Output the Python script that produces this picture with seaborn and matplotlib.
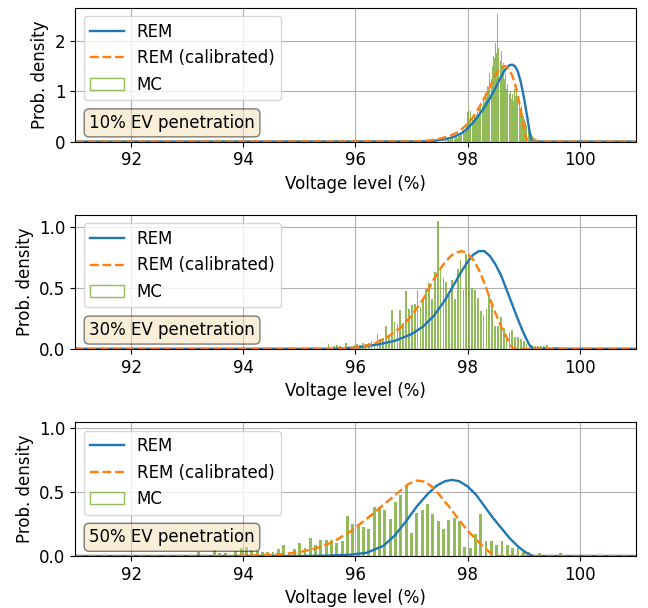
import numpy as np
import pandas as pd
import matplotlib
matplotlib.use('Agg')
import matplotlib.pyplot as plt
from matplotlib.patches import Patch
from matplotlib.lines import Line2D
import seaborn as sns

# ---- Monte Carlo histograms (bar heights) ----
# each: first bar centre, bar spacing, heights
mc10_start, mc10_step = 97.60, 0.02
mc10 = [0.02, 0.0, 0.03, 0.05, 0.03, 0.06, 0.04, 0.08, 0.05, 0.10,
        0.12, 0.08, 0.15, 0.12, 0.18, 0.14, 0.22, 0.18, 0.25, 0.30,
        0.58, 0.62, 0.45, 0.60, 0.50, 0.42, 0.55, 0.48, 0.52, 0.58,
        0.50, 0.68, 0.75, 0.70, 0.85, 0.78, 0.95, 0.88, 1.10, 1.05,
        1.35, 1.25, 1.50, 1.70, 1.65, 1.95, 1.75, 2.52, 1.85, 1.60,
        1.80, 1.45, 1.55, 1.25, 1.35, 1.05, 1.15, 0.95, 1.00, 0.85,
        0.95, 0.80, 1.05, 0.90, 1.10, 0.85, 0.75, 0.65, 0.70, 0.55,
        0.50, 0.45, 0.38, 0.32, 0.28, 0.22, 0.18, 0.15, 0.12, 0.10,
        0.08, 0.06, 0.05, 0.04, 0.03, 0.02, 0.02, 0.01, 0.02, 0.0,
        0.01, 0.0, 0.0, 0.01, 0.0, 0.0, 0.0, 0.0, 0.0, 0.0,
        0.0, 0.0, 0.0, 0.02]

mc30_start, mc30_step = 95.47, 0.0512
mc30 = [0.0, 0.04, 0.0, 0.02, 0.03, 0.02, 0.0, 0.05, 0.0, 0.0,
        0.035, 0.04, 0.035, 0.05, 0.04, 0.045, 0.065, 0.05, 0.12, 0.08,
        0.09, 0.19, 0.11, 0.32, 0.22, 0.20, 0.32, 0.21, 0.47, 0.33,
        0.36, 0.37, 0.48, 0.34, 0.40, 0.49, 0.54, 0.41, 0.63, 1.05,
        0.65, 0.58, 0.55, 0.44, 0.56, 0.41, 0.65, 0.73, 0.48, 0.78,
        0.71, 0.50, 0.48, 0.42, 0.31, 0.28, 0.33, 0.45, 0.38, 0.19,
        0.19, 0.26, 0.17, 0.12, 0.14, 0.15, 0.10, 0.10, 0.08, 0.06,
        0.04, 0.035, 0.035, 0.02, 0.02, 0.02, 0.02, 0.035, 0.015, 0.015,
        0.015, 0.015]

mc50_start, mc50_step = 93.20, 0.095
mc50 = [0.035, 0.0, 0.0, 0.045, 0.025, 0.025, 0.0, 0.04, 0.06, 0.07,
        0.05, 0.04, 0.035, 0.035, 0.035, 0.057, 0.088, 0.022, 0.057, 0.10,
        0.062, 0.14, 0.088, 0.128, 0.122, 0.128, 0.10, 0.115, 0.31, 0.25,
        0.25, 0.23, 0.21, 0.38, 0.38, 0.36, 0.29, 0.42, 0.48, 0.55,
        0.18, 0.34, 0.36, 0.41, 0.33, 0.27, 0.21, 0.28, 0.30, 0.27,
        0.07, 0.06, 0.17, 0.33, 0.12, 0.12, 0.09, 0.12, 0.09, 0.06,
        0.06, 0.035, 0.03, 0.01, 0.02, 0.0, 0.0, 0.0, 0.02, 0.0,
        0.0, 0.0, 0.01]

# ---- REM density curves ----
rem10_x = [91.0, 97.2, 97.4, 97.6, 97.75, 97.9, 98.0, 98.1, 98.2, 98.3, 98.4, 98.5, 98.6,
           98.65, 98.7, 98.75, 98.8, 98.85, 98.9, 98.95, 99.0, 99.05, 99.1, 99.13, 99.15, 101.0]
rem10_y = [0, 0.003, 0.015, 0.045, 0.09, 0.17, 0.26, 0.38, 0.52, 0.68, 0.86, 1.07, 1.29,
           1.39, 1.47, 1.515, 1.525, 1.49, 1.38, 1.18, 0.91, 0.59, 0.25, 0.06, 0.0, 0]
cal10_x = [91.0, 97.1, 97.3, 97.5, 97.7, 97.85, 98.0, 98.1, 98.2, 98.3, 98.4, 98.5,
           98.55, 98.6, 98.65, 98.7, 98.75, 98.8, 98.85, 98.9, 98.95, 99.0, 99.04, 99.07, 101.0]
cal10_y = [0, 0.003, 0.02, 0.055, 0.12, 0.2, 0.35, 0.49, 0.66, 0.87, 1.09, 1.32,
           1.41, 1.47, 1.50, 1.48, 1.42, 1.30, 1.13, 0.90, 0.62, 0.32, 0.10, 0.0, 0]

rem30_x = [91.0, 95.6, 96.0, 96.4, 96.7, 97.0, 97.2, 97.4, 97.6, 97.75, 97.9, 98.0, 98.1,
           98.2, 98.3, 98.4, 98.5, 98.6, 98.7, 98.8, 98.9, 98.98, 99.05, 99.1, 99.16, 101.0]
rem30_y = [0, 0.0, 0.01, 0.035, 0.065, 0.12, 0.18, 0.27, 0.40, 0.52, 0.64, 0.71, 0.77,
           0.80, 0.80, 0.76, 0.69, 0.60, 0.48, 0.36, 0.24, 0.15, 0.08, 0.035, 0.0, 0]
cal30_x = [91.0, 95.6, 96.0, 96.3, 96.55, 96.8, 97.0, 97.2, 97.4, 97.55, 97.7, 97.8,
           97.9, 98.0, 98.1, 98.2, 98.3, 98.4, 98.5, 98.6, 98.7, 98.77, 98.82, 101.0]
cal30_y = [0, 0, 0.01, 0.035, 0.09, 0.17, 0.27, 0.40, 0.57, 0.68, 0.76, 0.79,
           0.80, 0.78, 0.73, 0.65, 0.54, 0.41, 0.29, 0.18, 0.09, 0.03, 0.0, 0]

rem50_x = [91.0, 95.0, 95.5, 95.9, 96.2, 96.5, 96.7, 96.9, 97.1, 97.3, 97.45, 97.6,
           97.72, 97.85, 98.0, 98.15, 98.3, 98.45, 98.6, 98.75, 98.9, 99.0, 99.1, 99.18, 101.0]
rem50_y = [0, 0, 0.003, 0.01, 0.025, 0.08, 0.16, 0.27, 0.39, 0.49, 0.55, 0.585,
           0.595, 0.585, 0.545, 0.48, 0.39, 0.30, 0.22, 0.14, 0.075, 0.04, 0.012, 0, 0]
cal50_x = [91.0, 93.8, 94.4, 94.7, 95.0, 95.3, 95.6, 95.9, 96.2, 96.5, 96.8, 96.95,
           97.1, 97.25, 97.4, 97.55, 97.7, 97.85, 98.0, 98.15, 98.3, 98.42, 98.5, 101.0]
cal50_y = [0, 0, 0.008, 0.015, 0.03, 0.06, 0.11, 0.19, 0.29, 0.40, 0.51, 0.565,
           0.59, 0.58, 0.53, 0.45, 0.37, 0.28, 0.20, 0.13, 0.065, 0.02, 0.0, 0]

labels = ['10% EV penetration', '30% EV penetration', '50% EV penetration']
ylims = [2.65, 1.095, 1.045]
yticks = [[0, 1, 2], [0.0, 0.5, 1.0], [0.0, 0.5, 1.0]]
shrinks = [0.9, 0.6, 0.55]

panels = [
    (mc10_start, mc10_step, mc10, rem10_x, rem10_y, cal10_x, cal10_y),
    (mc30_start, mc30_step, mc30, rem30_x, rem30_y, cal30_x, cal30_y),
    (mc50_start, mc50_step, mc50, rem50_x, rem50_y, cal50_x, cal50_y),
]

blue = '#1f77b4'
orange = '#ff7f0e'
green = '#77ac30'
fs = 12

fig, axes = plt.subplots(3, 1, figsize=(6.48, 6.08), dpi=100)
fig.subplots_adjust(left=0.116, right=0.981, top=0.987, bottom=0.0855, hspace=0.55)

for i, ax in enumerate(axes):
    start, step, heights, rx, ry, cx, cy = panels[i]
    n = len(heights)
    mc = pd.DataFrame({'v': start + step * np.arange(n), 'w': heights})
    lo = start - step / 2

    sns.histplot(data=mc, x='v', weights='w', binwidth=step,
                 binrange=(lo, lo + step * n), shrink=shrinks[i],
                 color=green, alpha=0.8, linewidth=0, ax=ax)
    sns.lineplot(x=rx, y=ry, color=blue, lw=1.7, ax=ax)
    sns.lineplot(x=cx, y=cy, color=orange, lw=1.7, ls='--', ax=ax)

    ax.set_xlim(91, 101)
    ax.set_ylim(0, ylims[i])
    ax.set_xticks([92, 94, 96, 98, 100])
    ax.set_yticks(yticks[i])
    ax.grid(True, color='#b0b0b0', lw=0.8)
    ax.set_axisbelow(True)
    ax.set_xlabel('Voltage level (%)', fontsize=fs)
    ax.set_ylabel('Prob. density', fontsize=fs)
    ax.tick_params(labelsize=fs)

    handles = [Line2D([0], [0], color=blue, lw=1.7),
               Line2D([0], [0], color=orange, lw=1.7, ls='--'),
               Patch(facecolor='white', edgecolor=green, alpha=0.8)]
    ax.legend(handles, ['REM', 'REM (calibrated)', 'MC'], loc='upper left', fontsize=fs)

    ax.text(0.025, 0.14, labels[i], transform=ax.transAxes, fontsize=fs,
            va='center', ha='left',
            bbox=dict(boxstyle='round', facecolor='wheat', alpha=0.5))

fig.savefig('out.png', dpi=100)
